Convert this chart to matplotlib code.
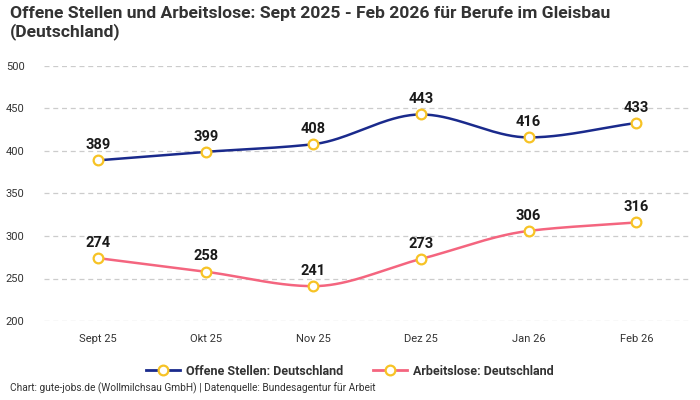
import numpy as np
import matplotlib
matplotlib.use("Agg")
import matplotlib.pyplot as plt
from matplotlib.lines import Line2D

categories = ["Sept 25", "Okt 25", "Nov 25", "Dez 25", "Jan 26", "Feb 26"]
offene = [389, 399, 408, 443, 416, 433]
arbeitslose = [274, 258, 241, 273, 306, 316]
series_names = ["Offene Stellen: Deutschland", "Arbeitslose: Deutschland"]
yticks = [200, 250, 300, 350, 400, 450, 500]

plt.rcParams['font.family'] = ['Roboto', 'DejaVu Sans']

def monotone(x, y, n=40):
    x = np.asarray(x, float); y = np.asarray(y, float)
    h = np.diff(x); d = np.diff(y) / h
    m = np.zeros_like(y)
    m[0] = d[0]; m[-1] = d[-1]
    for i in range(1, len(y) - 1):
        if d[i-1] * d[i] <= 0:
            m[i] = 0
        else:
            w1 = 2*h[i] + h[i-1]; w2 = h[i] + 2*h[i-1]
            m[i] = (w1 + w2) / (w1/d[i-1] + w2/d[i])
    xs, ys = [], []
    for i in range(len(x) - 1):
        t = np.linspace(0, 1, n)
        h00 = 2*t**3 - 3*t**2 + 1; h10 = t**3 - 2*t**2 + t
        h01 = -2*t**3 + 3*t**2; h11 = t**3 - t**2
        xs.append(x[i] + t*h[i])
        ys.append(h00*y[i] + h10*h[i]*m[i] + h01*y[i+1] + h11*h[i]*m[i+1])
    return np.concatenate(xs), np.concatenate(ys)

fig = plt.figure(figsize=(7, 4), dpi=100)
ax = fig.add_axes([0.063, 0.1975, 0.923, 0.6375])
x = np.arange(len(categories))
colors = ["#1a2a8c", "#f4657f"]
marker_edge = "#f7c325"
for vals, c in zip([offene, arbeitslose], colors):
    xs, ys = monotone(x, vals)
    ax.plot(xs, ys, color=c, lw=1.8, zorder=2)
    ax.plot(x, vals, ls='none', marker='o', ms=7, mfc='white', mec=marker_edge, mew=1.6, zorder=3)
    for xi, v in zip(x, vals):
        ax.annotate(str(v), (xi, v), xytext=(0, 6), textcoords='offset points',
                    ha='center', va='bottom', fontsize=10.5, fontweight='bold', color='#1a1a1a')

ax.set_xlim(-0.5, len(categories) - 0.5)
ax.set_ylim(200, 500)
ax.set_yticks(yticks)
ax.set_xticks(x)
ax.set_xticklabels(categories)
ax.grid(axis='y', ls=(0, (4, 3)), color='#cccccc', lw=0.9)
ax.set_axisbelow(True)
for s in ax.spines.values():
    s.set_visible(False)
ax.tick_params(length=0, labelsize=8, colors='#333333')
ax.tick_params(axis='y', pad=14)
ax.tick_params(axis='x', pad=9)

fig.text(0.014, 0.985, "Offene Stellen und Arbeitslose: Sept 2025 - Feb 2026 für Berufe im Gleisbau\n(Deutschland)",
         ha='left', va='top', fontsize=12.6, fontweight='bold', color='#333333', linespacing=1.15)

handles = [Line2D([0], [0], color=c, lw=2, marker='o', ms=7, mfc='white', mec=marker_edge, mew=1.6)
           for c in colors]
fig.legend(handles, series_names, loc='center', bbox_to_anchor=(0.5, 0.072), ncol=2, frameon=False,
           prop={'weight': 'bold', 'size': 9.0}, handlelength=2.7, handletextpad=0.5,
           columnspacing=2.4, labelcolor='#333333')

fig.text(0.014, 0.016, "Chart: gute-jobs.de (Wollmilchsau GmbH) | Datenquelle: Bundesagentur für Arbeit",
         ha='left', va='bottom', fontsize=7.3, color='#333333')

fig.savefig("out.png", dpi=100)
